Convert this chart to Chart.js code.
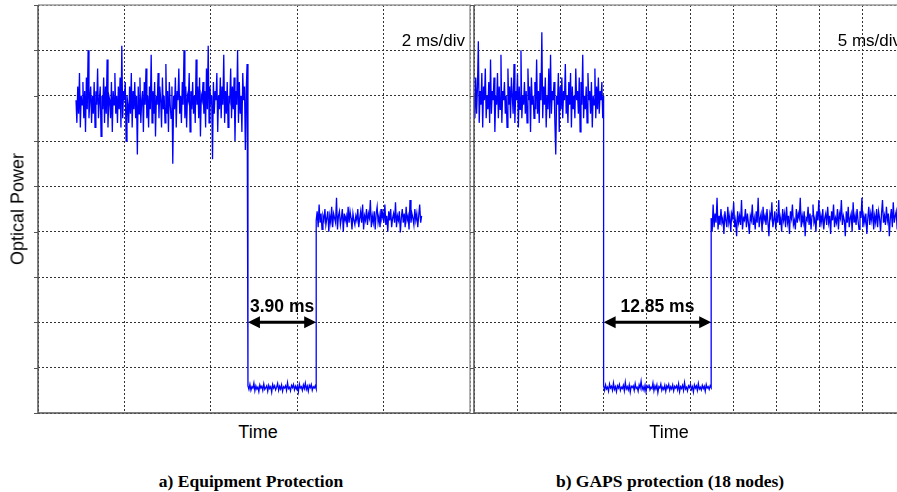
<!DOCTYPE html>
<html>
<head>
<meta charset="utf-8">
<script src="https://cdn.jsdelivr.net/npm/chart.js@4.4.0/dist/chart.umd.min.js"></script>
<style>
body { margin:0; width:897px; height:492px; overflow:hidden; background:#fff; position:relative; font-family:"Liberation Sans", Arial, sans-serif; }
canvas { position:absolute; top:0; }
#leftChart { left:0; }
#rightChart { left:464px; }
.lbl { position:absolute; font-size:18px; color:#000; white-space:nowrap; transform:translate(-50%,-50%); }
.rot { transform:translate(-50%,-50%) rotate(-90deg); }
.cap { position:absolute; font-family:"Liberation Serif","Times New Roman",serif; font-weight:bold; font-size:17.5px; color:#000; white-space:nowrap; transform:translate(-50%,-50%); }
</style>
</head>
<body>
<canvas id="leftChart" width="480" height="420"></canvas>
<canvas id="rightChart" width="452" height="420"></canvas>
<div class="lbl rot" style="left:18px; top:209px;">Optical Power</div>
<div class="lbl" style="left:258px; top:432px;">Time</div>
<div class="lbl" style="left:669px; top:432px;">Time</div>
<div class="cap" style="left:251px; top:481px;">a) Equipment Protection</div>
<div class="cap" style="left:670px; top:481px;">b) GAPS protection (18 nodes)</div>
<script>
// Escalas em divisões da tela do osciloscópio
const yDivs = 9;
const leftDivs = 5;
const rightDivs = 10;

// a) instantes (em divisões): início, queda, retorno, fim
const leftEdges = [0.44, 2.43, 3.22, 4.44];
const leftHigh = [
  6.9,6.4,7.2,6.6,7.5,6.3,7.0,6.8,7.3,6.5,
  7.1,6.2,7.4,6.7,8.0,6.5,6.9,7.2,6.4,7.0,
  6.6,7.3,6.3,7.1,6.8,7.6,6.5,6.9,7.2,6.1,
  7.0,6.7,7.4,6.4,7.2,6.6,7.8,6.3,7.0,6.9,
  6.5,7.3,6.2,7.1,6.8,7.5,6.6,7.0,6.4,7.2,
  6.7,7.4,6.3,8.1,6.5,7.1,6.9,7.3,6.0,7.0,
  6.8,6.4,7.2,6.6,7.5,6.3,7.1,6.7,7.3,6.5,
  7.0,5.7,7.2,6.6,7.4,6.4,6.9,7.1,6.2,7.3,
  6.8,7.6,6.5,7.0,6.3,7.2,6.7,7.9,6.4,7.1,
  6.6,7.3,6.1,7.0,6.8,7.5,6.5,7.2,6.9,6.3,
  7.4,6.7,7.0,6.4,7.7,6.6,7.1,6.2,7.3,6.8,
  6.5,7.2,5.5,7.0,6.7,7.4,6.3,7.1,6.9,7.6,
  6.6,7.0,6.4,7.3,6.8,8.0,6.5,7.2,6.3,7.0,
  6.9,7.5,6.2,7.1,6.7,7.3,6.6,7.0,6.4,7.8,
  6.8,7.2,6.5,7.4,6.1,7.0,6.9,7.3,6.6,7.1,
  6.3,7.6,6.7,8.1,6.4,7.2,6.8,7.0,5.6,7.3,
  6.6,7.1,6.9,7.5,6.2,7.0,6.7,7.4,6.5,7.2,
  6.8,7.9,6.4,7.1,6.6,7.3,6.3,7.0,6.9,7.6,
  6.5,7.2,6.7,7.4,6.0,7.1,6.8,8.0,6.4,7.3,
  6.6,7.0,6.2,7.5,6.9,7.2,5.8,7.1,7.7,7.4
];
const leftLow = [
  0.6,0.52,0.63,0.5,0.58,0.55,0.66,0.49,0.6,0.53,
  0.57,0.47,0.62,0.55,0.59,0.5,0.64,0.52,0.56,0.6,
  0.48,0.61,0.54,0.58,0.46,0.63,0.55,0.6,0.51,0.57,
  0.65,0.5,0.59,0.53,0.62,0.48,0.58,0.55,0.6,0.5,
  0.67,0.54,0.57,0.49,0.61,0.56,0.63,0.51,0.59,0.53,
  0.6,0.47,0.64,0.55,0.58,0.5,0.62,0.54,0.66,0.52,
  0.59,0.48,0.61,0.56,0.63,0.5,0.58,0.55,0.6,0.53
];
const leftMid = [
  4.25,4.45,4.1,4.6,4.2,4.4,4.05,4.35,4.25,4.5,
  4.15,4.3,4.45,4.0,4.35,4.2,4.55,4.1,4.4,4.3,
  4.2,4.75,4.05,4.35,4.45,4.15,4.3,4.5,4.0,4.4,
  4.25,4.35,4.1,4.55,4.2,4.45,4.3,4.05,4.4,4.25,
  4.15,4.35,4.25,4.5,4.1,4.3,4.45,4.2,4.6,4.05,
  4.35,4.25,4.5,4.15,4.4,4.3,4.7,4.1,4.35,4.2,
  4.45,4.05,4.4,4.55,4.2,4.35,4.1,4.5,4.3,4.4,
  4.2,4.6,4.15,4.35,4.0,4.45,4.25,4.5,4.1,4.3,
  4.4,4.2,4.65,4.1,4.35,4.25,4.45,3.98,4.3,4.5,
  4.2,4.4,4.1,4.55,4.25,4.35,4.05,4.7,4.2,4.4,
  4.3,4.15,4.5,4.25,4.4,4.1,4.35,4.6,4.2,4.35
];

// b) GAPS
const rightEdges = [0.0, 3.0, 5.49, 10.0];
const rightHigh = [
  7.0,6.5,7.4,6.6,7.2,8.2,6.4,7.1,6.8,7.5,
  6.3,7.2,6.9,7.6,6.5,7.0,6.7,7.3,6.4,7.8,
  6.6,7.1,6.9,7.4,6.2,7.0,6.8,7.5,6.5,7.2,
  6.7,7.9,6.4,7.1,6.9,7.3,6.6,7.0,6.3,7.6,
  6.8,7.2,6.5,7.4,7.0,6.6,7.7,6.4,7.1,6.9,
  7.5,6.3,7.2,6.7,8.0,6.5,7.0,6.8,7.3,6.6,
  7.1,6.4,7.6,6.9,7.2,6.2,7.4,6.8,7.0,6.5,
  7.3,6.7,7.8,6.6,7.1,6.4,7.5,6.9,8.4,6.5,
  7.2,6.8,7.4,6.3,7.0,6.7,7.6,6.5,7.9,6.6,
  7.1,6.9,7.3,6.4,5.7,7.0,6.8,7.5,6.2,7.2,
  6.7,7.4,6.5,7.1,6.9,7.7,6.6,7.0,6.4,7.3,
  6.8,7.5,6.3,7.2,6.7,7.0,6.5,7.6,6.9,7.1,
  6.6,7.4,6.2,7.3,6.8,7.9,6.5,7.0,6.7,7.2,
  6.4,7.5,6.9,7.1,6.6,7.3,6.3,7.0,6.8,7.6,
  6.5,7.2,6.7,7.4,6.6,7.1,6.9,7.3,6.5,7.0
];
const rightLow = [
  0.6,0.5,0.62,0.53,0.57,0.48,0.64,0.55,0.59,0.5,
  0.66,0.52,0.58,0.47,0.6,0.55,0.63,0.5,0.57,0.54,
  0.61,0.49,0.68,0.53,0.58,0.51,0.62,0.46,0.59,0.56,
  0.6,0.5,0.65,0.54,0.57,0.48,0.62,0.55,0.7,0.52,
  0.58,0.5,0.61,0.47,0.6,0.56,0.63,0.51,0.57,0.54,
  0.66,0.49,0.6,0.53,0.62,0.45,0.58,0.55,0.64,0.5,
  0.57,0.52,0.61,0.48,0.6,0.55,0.63,0.5,0.58,0.53,
  0.62,0.49,0.59,0.55,0.6,0.51,0.64,0.47,0.58,0.54,
  0.61,0.5,0.67,0.53,0.57,0.49,0.6,0.56,0.63,0.52,
  0.58,0.46,0.62,0.55,0.6,0.5,0.65,0.53,0.57,0.51,
  0.61,0.54,0.59,0.48,0.63,0.55,0.58,0.52,0.6,0.56
];
const rightMid = [
  4.3,4.0,4.6,4.1,4.4,4.2,4.75,4.05,4.35,4.15,
  4.5,4.2,4.3,3.95,4.45,4.25,4.1,4.55,4.2,4.35,
  4.0,4.4,4.3,4.65,4.1,4.25,3.9,4.45,4.2,4.35,
  4.15,4.7,4.05,4.3,4.25,4.5,4.1,4.4,4.2,3.95,
  4.35,4.25,4.6,4.15,4.3,4.05,4.45,4.2,4.75,4.1,
  4.3,4.4,4.0,4.55,4.25,4.35,4.15,4.5,4.2,3.9,
  4.4,4.3,4.65,4.1,4.25,4.45,4.05,4.35,4.2,4.7,
  4.15,4.3,4.0,4.5,4.25,4.4,4.1,4.55,4.2,4.35,
  3.95,4.45,4.3,4.6,4.15,4.25,4.05,4.5,4.2,4.4,
  4.3,4.75,4.1,4.35,4.2,4.45,3.9,4.3,4.25,4.55,
  4.15,4.4,4.05,4.35,4.6,4.2,4.3,4.0,4.45,4.25,
  4.7,4.1,4.35,4.2,4.5,4.05,4.3,4.4,4.15,4.55,
  4.2,4.35,3.95,4.45,4.25,4.6,4.1,4.3,4.2,4.5,
  4.05,4.4,4.3,4.7,4.15,4.35,4.25,3.9,4.45,4.2,
  4.55,4.1,4.3,4.4,4.0,4.65,4.2,4.35,4.15,4.5,
  4.25,4.05,4.45,4.3,4.75,4.1,4.35,4.2,4.4,3.95,
  4.3,4.55,4.15,4.4,4.25,4.6,4.05,4.35,4.2,4.5,
  4.1,4.45,4.3,4.0,4.4,4.7,4.2,4.35,4.15,4.55,
  4.25,4.4,3.9,4.3,4.5,4.1,4.65,4.2,4.35,4.45,
  4.05,4.3,4.6,4.2,4.4,4.1,4.5,4.25,4.35,4.15
];

// Espalha as amostras de cada trecho entre seus instantes
function buildTrace(edges, segments) {
    const pts = [];
    segments.forEach(function(seg, s) {
        const t0 = edges[s], t1 = edges[s + 1];
        seg.forEach(function(v, i) {
            pts.push({ x: t0 + (t1 - t0) * i / (seg.length - 1), y: v });
        });
    });
    return pts;
}

// Moldura, marcas, texto ms/div e seta de medida
const scopeMarks = {
    id: 'scopeMarks',
    afterDatasetsDraw(chart, args, opts) {
        const ctx = chart.ctx, a = chart.chartArea;
        const xs = chart.scales.x, ys = chart.scales.y;
        ctx.save();
        ctx.lineWidth = 1.5;
        ctx.strokeStyle = '#9a9a9a';
        ctx.beginPath();
        ctx.moveTo(a.left, a.top); ctx.lineTo(a.right, a.top); ctx.lineTo(a.right, a.bottom);
        ctx.stroke();
        ctx.strokeStyle = '#555';
        ctx.beginPath();
        ctx.moveTo(a.left, a.top); ctx.lineTo(a.left, a.bottom); ctx.lineTo(a.right, a.bottom);
        ctx.stroke();

        ctx.lineWidth = 1;
        ys.ticks.forEach(function(t) {
            const y = Math.round(ys.getPixelForValue(t.value)) + 0.5;
            ctx.beginPath(); ctx.moveTo(a.left - 4, y); ctx.lineTo(a.left, y); ctx.stroke();
        });

        ctx.fillStyle = '#000';
        ctx.font = '17px "Liberation Sans", Arial, sans-serif';
        ctx.textAlign = 'right';
        ctx.textBaseline = 'middle';
        ctx.fillText(opts.perDiv, a.right - 5, a.top + 36);

        const x1 = xs.getPixelForValue(opts.from), x2 = xs.getPixelForValue(opts.to);
        const y = ys.getPixelForValue(opts.level);
        const head = 12, half = 6;
        ctx.strokeStyle = '#000';
        ctx.lineWidth = 3;
        ctx.beginPath(); ctx.moveTo(x1 + head - 1, y); ctx.lineTo(x2 - head + 1, y); ctx.stroke();
        ctx.beginPath(); ctx.moveTo(x1, y); ctx.lineTo(x1 + head, y - half); ctx.lineTo(x1 + head, y + half); ctx.closePath(); ctx.fill();
        ctx.beginPath(); ctx.moveTo(x2, y); ctx.lineTo(x2 - head, y - half); ctx.lineTo(x2 - head, y + half); ctx.closePath(); ctx.fill();

        ctx.font = 'bold 17.5px "Liberation Sans", Arial, sans-serif';
        ctx.textAlign = 'center';
        ctx.fillText(opts.label, (x1 + x2) / 2, y - 15);
        ctx.restore();
    }
};

function makeChart(id, divs, edges, segments, padLeft, marks) {
    const ctx = document.getElementById(id).getContext('2d');
    return new Chart(ctx, {
        type: 'line',
        data: {
            datasets: [{
                data: buildTrace(edges, segments),
                borderColor: '#0000ff',
                borderWidth: 1.3,
                pointRadius: 0,
                tension: 0,
                fill: false
            }]
        },
        options: {
            responsive: false,
            animation: false,
            devicePixelRatio: 1,
            layout: { padding: { left: padLeft, top: 5, right: 10, bottom: 7 } },
            scales: {
                x: {
                    type: 'linear', min: 0, max: divs,
                    ticks: { display: false, stepSize: 1 },
                    grid: { color: '#333', lineWidth: 1, drawTicks: false },
                    border: { display: false, dash: [2, 2] }
                },
                y: {
                    type: 'linear', min: 0, max: yDivs,
                    ticks: { display: false, stepSize: 1 },
                    grid: { color: '#333', lineWidth: 1, drawTicks: false },
                    border: { display: false, dash: [2, 2] }
                }
            },
            plugins: {
                legend: { display: false },
                tooltip: { enabled: false },
                scopeMarks: marks
            }
        },
        plugins: [scopeMarks]
    });
}

window.onload = function() {
    makeChart('leftChart', leftDivs, leftEdges, [leftHigh, leftLow, leftMid], 38,
        { perDiv: '2 ms/div', from: leftEdges[1], to: leftEdges[2], level: 2, label: '3.90 ms' });
    makeChart('rightChart', rightDivs, rightEdges, [rightHigh, rightLow, rightMid], 10,
        { perDiv: '5 ms/div', from: rightEdges[1], to: rightEdges[2], level: 2, label: '12.85 ms' });
};
</script>
</body>
</html>
